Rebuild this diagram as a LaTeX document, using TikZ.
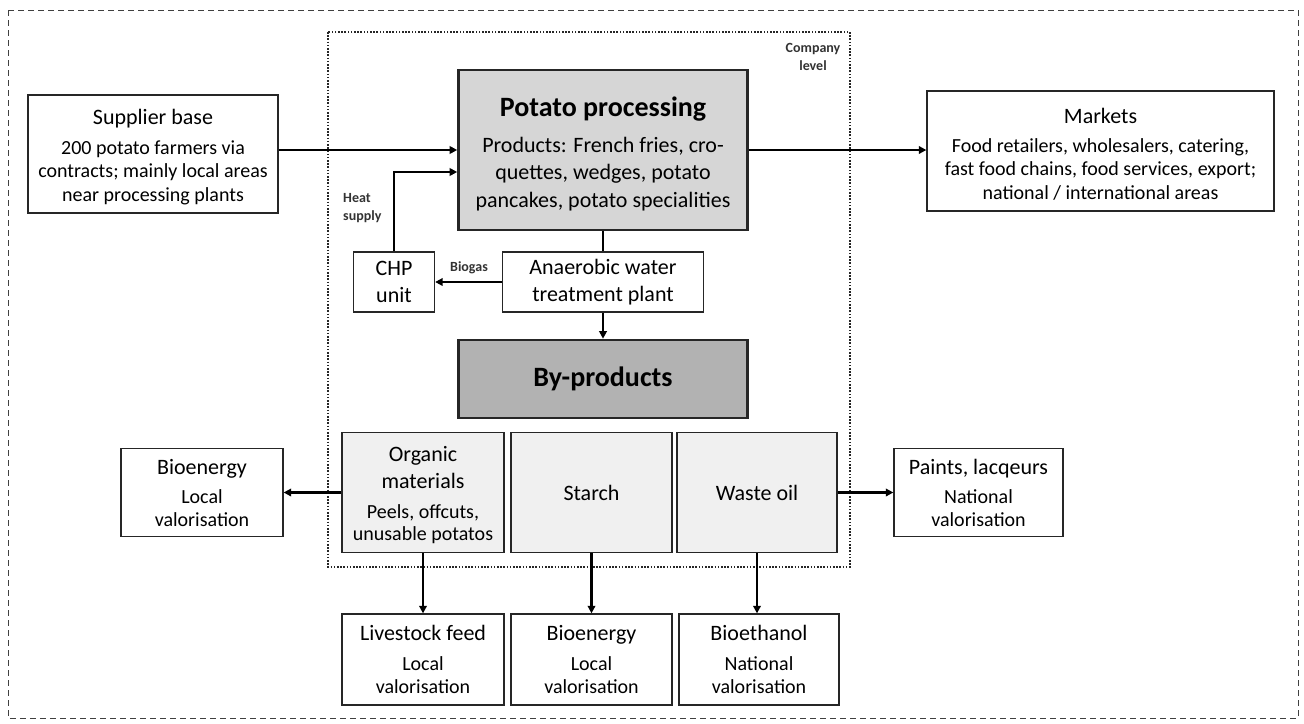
\documentclass[tikz,border=0pt]{standalone}
\usepackage{fontspec}
\setmainfont{Carlito}
\usetikzlibrary{arrows.meta}
\begin{document}
\begin{tikzpicture}[x=1pt,y=-1pt,
  box/.style={draw=black!85, line width=1.3pt, align=center, inner sep=1pt,
    font=\fontsize{20}{23.5}\selectfont},
  heavy/.style={box, line width=2.6pt},
  arr/.style={line width=2.3pt, -{Triangle[length=7.5pt,width=7.5pt]}},
  plain/.style={line width=2.3pt},
  lbl/.style={font=\fontsize{14}{18}\selectfont\bfseries, align=center, inner sep=0pt, text=black!80}]
\useasboundingbox (0,0) rectangle (1304,723);
% frames
\draw[black!75, line width=1pt, dash pattern=on 6pt off 4pt] (8,10) rectangle (1298,718);
\draw[black!85, line width=2pt, dash pattern=on 1.6pt off 1.6pt] (328,32) rectangle (850,567);
\node[lbl] (comp) at (813,57) {Company\\level};
% nodes
\node[box, minimum width=250pt, minimum height=118pt] (sup) at (153,154)
  {\mbox{}\\[-2pt]{\fontsize{22}{23.5}\selectfont Supplier base}\\[6pt]200 potato farmers via\\contracts; mainly local areas\\near processing plants};
\node[heavy, fill=black!16, minimum width=289pt, minimum height=160pt, font=\fontsize{22}{27.5}\selectfont] (pp) at (603,150)
  {\mbox{}\\[0pt]{\fontsize{28}{27.5}\selectfont\bfseries Potato processing}\\[8pt]Products: French fries, cro-\\quettes, wedges, potato\\pancakes, potato specialities};
\node[box, minimum width=347pt, minimum height=120pt] (mkt) at (1100.5,151)
  {\mbox{}\\[-2pt]{\fontsize{22}{23.5}\selectfont Markets}\\[5pt]Food retailers, wholesalers, catering,\\fast food chains, food services, export;\\national / international areas};
\node[box, minimum width=81pt, minimum height=60pt, font=\fontsize{22}{27}\selectfont] (chp) at (394,282) {CHP\\unit};
\node[box, minimum width=201pt, minimum height=60pt, font=\fontsize{22}{27}\selectfont] (awt) at (603,282) {Anaerobic water\\treatment plant};
\node[heavy, fill=black!30, minimum width=289pt, minimum height=78pt] (byp) at (603,379)
  {\fontsize{28}{28}\selectfont\bfseries By-products};
\node[box, fill=black!6, minimum width=162pt, minimum height=120pt, font=\fontsize{20}{22.5}\selectfont] (org) at (423,492.5)
  {\mbox{}\\[-2pt]{\fontsize{22}{22.5}\selectfont Organic}\\[4.5pt]{\fontsize{22}{22.5}\selectfont materials}\\[7.5pt]Peels, offcuts,\\unusable potatos};
\node[box, fill=black!6, minimum width=161pt, minimum height=120pt, font=\fontsize{22}{23}\selectfont] (sta) at (591.5,492.5) {Starch};
\node[box, fill=black!6, minimum width=160pt, minimum height=120pt, font=\fontsize{22}{23}\selectfont] (wst) at (757,492.5) {Waste oil};
\node[box, minimum width=162pt, minimum height=88pt, font=\fontsize{20}{23}\selectfont] (bio1) at (202,492.5)
  {{\fontsize{22}{23}\selectfont Bioenergy}\\[6pt]Local\\valorisation};
\node[box, minimum width=169pt, minimum height=88pt, font=\fontsize{20}{23}\selectfont] (pnt) at (978.5,492.5)
  {{\fontsize{22}{23}\selectfont Paints, lacqeurs}\\[6pt]National\\valorisation};
\node[box, minimum width=162pt, minimum height=91pt, font=\fontsize{20}{23}\selectfont] (liv) at (423,659.5)
  {{\fontsize{22}{23}\selectfont Livestock feed}\\[7pt]Local\\valorisation};
\node[box, minimum width=161pt, minimum height=91pt, font=\fontsize{20}{23}\selectfont] (bio2) at (591.5,659.5)
  {{\fontsize{22}{23}\selectfont Bioenergy}\\[7pt]Local\\valorisation};
\node[box, minimum width=160pt, minimum height=91pt, font=\fontsize{20}{23}\selectfont] (eth) at (759,659.5)
  {{\fontsize{22}{23}\selectfont Bioethanol}\\[7pt]National\\valorisation};
% labels
\node[lbl, align=left, anchor=west] (heat) at (343,208) {Heat\\supply};
\node[lbl] (bgas) at (469,268) {Biogas};
% connectors
\draw[arr] (sup.east |- pp.west) -- (pp.west);
\draw[arr] (pp.east) -- (mkt.west |- pp.east);
\draw[arr] (chp.north) |- ([yshift=-22pt]pp.west);
\draw[plain] (pp.south) -- (awt.north);
\draw[arr] (awt.west) -- (chp.east);
\draw[arr] (awt.south) -- (byp.north);
\draw[arr] (org.west) -- (bio1.east);
\draw[arr] (wst.east) -- (pnt.west);
\draw[arr] (org.south) -- (liv.north);
\draw[arr] (sta.south) -- (bio2.north);
\draw[arr] (wst.south) -- (wst.south |- eth.north);
\end{tikzpicture}
\end{document}
